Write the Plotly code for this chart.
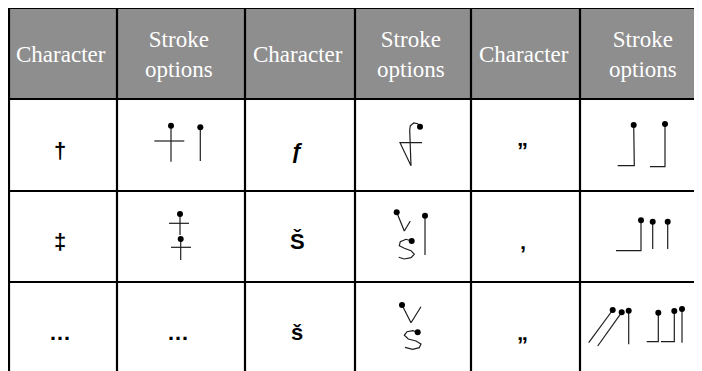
import plotly.graph_objects as go

# ---------------- data ----------------
header_labels = ["Character", "Stroke<br>options", "Character", "Stroke<br>options",
                 "Character", "Stroke<br>options"]

# body text per row (None = cell holds drawn stroke options)
row1_text = ["†", None, "ƒ", None, "”", None]
row2_text = ["‡", None, "Š", None, "‚", None]
row3_text = ["…", "…", "š", None, "„", None]
body_text = [row1_text, row2_text, row3_text]

# stroke options: polylines in cell-local pixel units (origin = cell top-left);
# the first point of each stroke is its starting point (drawn as a dot)
dagger_strokes = [
    [(54, 26.7), (54, 62.7)],
    [(83.3, 28.3), (83.3, 62)],
]
dagger_bars = [[(37.3, 42), (67.3, 42)]]

ddagger_strokes = [
    [(63, 23), (63, 44)],
    [(63.7, 48), (63.7, 69)],
]
ddagger_bars = [[(52, 32.3), (72, 32.3)], [(54, 56.3), (74, 56.3)]]

fhook_strokes = [
    [(65, 27.7), (62.7, 24.7), (58.7, 24), (55.3, 26.7), (54.7, 31), (56, 66.7),
     (45, 43.7), (67, 43.7)],
]

rdquo_strokes = [
    [(53.7, 26), (54.3, 66.7), (37.7, 66.7)],
    [(85, 25), (85, 67.7), (70, 67.7)],
]

Scaron_strokes = [
    [(41.7, 21.3), (49.3, 40), (55.3, 30)],
    [(56.7, 50), (51, 48.3), (45.3, 50.7), (44.3, 54.7), (49.3, 57.3), (56, 59.7),
     (59.3, 63.3), (56, 66.7), (49.3, 68), (43.7, 66.3)],
    [(70, 24.7), (70, 64)],
]

sbquo_strokes = [
    [(61, 29.3), (61, 59.7), (36, 59.7)],
    [(72.7, 30.7), (72.7, 58)],
    [(87.7, 30.7), (87.7, 58)],
]

scaron_strokes = [
    [(47, 23), (56, 40.7), (66, 24.7)],
    [(62.7, 50.3), (57.7, 48.7), (52, 49.7), (49.3, 53.3), (53.3, 57), (61, 59),
     (66, 62), (64.3, 65.7), (57.7, 67.3), (50, 65.3)],
]

bdquo_strokes = [
    [(32.7, 28), (8.7, 60.7)],
    [(41.7, 30.3), (17.7, 64)],
    [(48.7, 28.7), (48.7, 62.3)],
    [(78.3, 30.7), (78.3, 59.7), (66.7, 59.7)],
    [(94.3, 29), (94.3, 59.7), (81, 59.7)],
    [(102, 27), (102, 60.7)],
]

# (row, col) -> (strokes with start dot, extra plain strokes)
stroke_cells = {
    (0, 1): (dagger_strokes, dagger_bars),
    (1, 1): (ddagger_strokes, ddagger_bars),
    (0, 3): (fhook_strokes, []),
    (1, 3): (Scaron_strokes, []),
    (2, 3): (scaron_strokes, []),
    (0, 5): (rdquo_strokes, []),
    (1, 5): (sbquo_strokes, []),
    (2, 5): (bdquo_strokes, []),
}

# ---------------- layout geometry (screen pixels) ----------------
W, H = 702, 371
PAGE_OFFSET = 8  # browser body margin shifts the plot by this much
col_edges = [9, 117, 245, 355, 471, 580, 712]
row_edges = [8, 99, 191, 282, 380]
HEADER_BG = "#8e8e8e"
LINE = "black"
INK = "#1e1e1e"

fig = go.Figure()

# header background
fig.add_shape(type="rect", x0=col_edges[0], x1=col_edges[-1], y0=row_edges[0], y1=row_edges[1],
              fillcolor=HEADER_BG, line=dict(width=0), layer="below")

# grid lines
for x in col_edges[:-1]:
    fig.add_shape(type="line", x0=x, x1=x, y0=row_edges[0] - 1, y1=row_edges[-1],
                  line=dict(color=LINE, width=2.2), layer="above")
for y in row_edges[:-1]:
    fig.add_shape(type="line", x0=col_edges[0] - 1, x1=col_edges[-1], y0=y, y1=y,
                  line=dict(color=LINE, width=2.2), layer="above")

# header text
for c, lab in enumerate(header_labels):
    cx = (col_edges[c] + col_edges[c + 1]) / 2 - 2
    if c == len(header_labels) - 1:
        cx = 643
    cy = (row_edges[0] + row_edges[1]) / 2 + 1
    fig.add_annotation(x=cx, y=cy, text=lab, showarrow=False, xanchor="center", yanchor="middle",
                       font=dict(family="Liberation Serif, Times New Roman, serif", size=23,
                                 color="white"))

# body text
for r, row in enumerate(body_text):
    for c, t in enumerate(row):
        if t is None:
            continue
        cx = (col_edges[c] + col_edges[c + 1]) / 2 - 3
        cy = (row_edges[r + 1] + min(row_edges[r + 2], 373)) / 2 + 5
        fig.add_annotation(x=cx, y=cy, text=t, showarrow=False, xanchor="center", yanchor="middle",
                           font=dict(family="Liberation Sans, Arial, sans-serif", size=22,
                                     color="black", weight="bold"))

# stroke drawings
for (r, c), (strokes, extras) in stroke_cells.items():
    ox, oy = col_edges[c], row_edges[r + 1]
    for s in list(strokes) + list(extras):
        fig.add_trace(go.Scatter(x=[ox + p[0] for p in s], y=[oy + p[1] for p in s],
                                 mode="lines", line=dict(color=INK, width=1.2),
                                 hoverinfo="skip", showlegend=False))
    fig.add_trace(go.Scatter(x=[ox + s[0][0] for s in strokes], y=[oy + s[0][1] for s in strokes],
                             mode="markers", marker=dict(color="black", size=6),
                             hoverinfo="skip", showlegend=False))

fig.update_xaxes(range=[PAGE_OFFSET, PAGE_OFFSET + W], visible=False, fixedrange=True)
fig.update_yaxes(range=[PAGE_OFFSET + H, PAGE_OFFSET], visible=False, fixedrange=True)
fig.update_layout(width=W, height=H, autosize=False, margin=dict(l=0, r=0, t=0, b=0),
                  plot_bgcolor="white", paper_bgcolor="white", showlegend=False)

fig.write_html("out.html", config={"displayModeBar": False})
